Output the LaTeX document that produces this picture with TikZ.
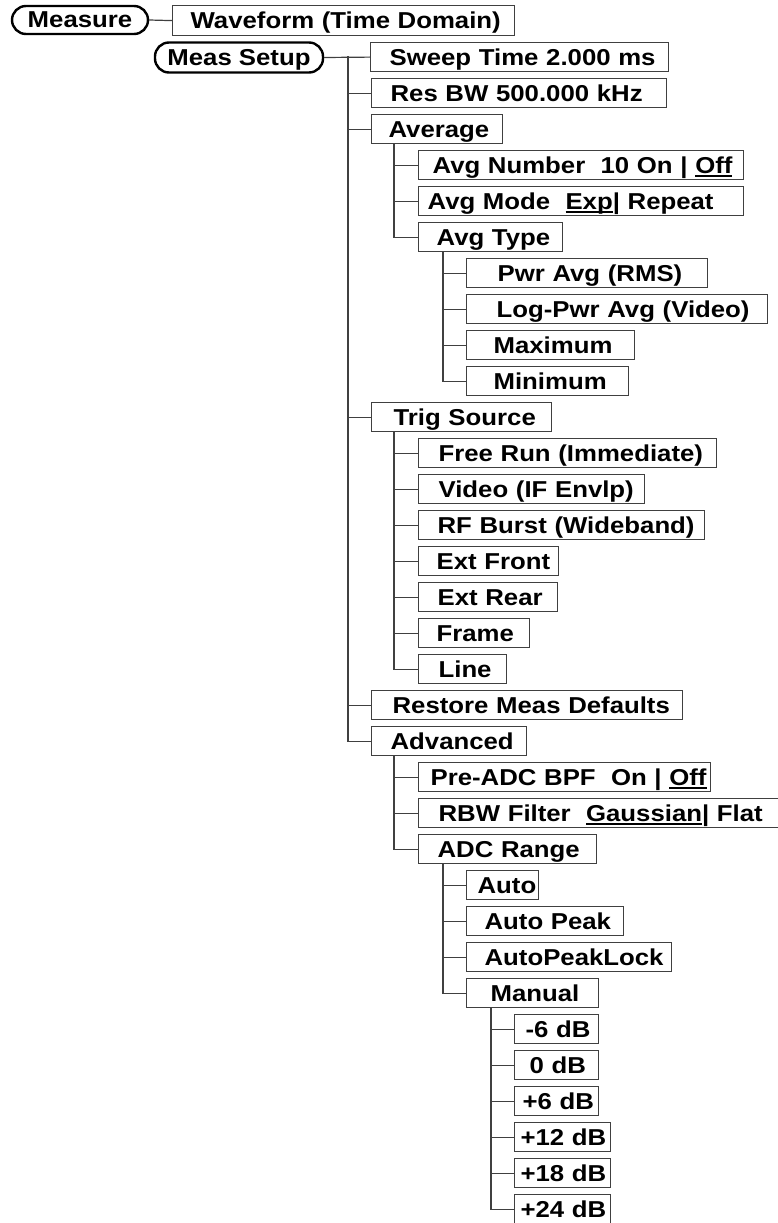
\documentclass[tikz,border=0pt]{standalone}
\usepackage{fontspec}
\setmainfont{Liberation Sans}[FakeStretch=1.12]
\newcommand\ulx[1]{\setbox0\hbox{#1}\rlap{\rule[-3.5pt]{\wd0}{1.6pt}}\box0}
\tikzset{
  lbl/.style={font=\fontsize{23}{27}\selectfont\bfseries, text height=18pt, text depth=2pt},
  bx/.style={lbl, draw=black!75, line width=1.2pt, rectangle, anchor=north west,
    inner xsep=0pt, inner ysep=0pt, minimum height=29pt, align=left},
  rb/.style={lbl, draw=black, line width=2.4pt, rounded corners=14pt, inner sep=0pt},
  ln/.style={draw=black!75, line width=1.2pt}
}
\newcommand\B[6]{\pgfmathsetmacro\bw{#4-#2}\node[bx, text width=\bw pt] (#1) at (#2,{42+36*#3}) {\hspace*{#5pt}#6};}
\begin{document}
\begin{tikzpicture}[x=1pt,y=-1pt]
\useasboundingbox (0,0) rectangle (777,1223);
\node[rb, minimum width=136pt, minimum height=28pt] (meas) at (80,20) {Measure};
\node[bx, text width=342pt, minimum height=30pt] (wave) at (172,5) {\hspace*{18pt}Waveform (Time Domain)};
\node[rb, minimum width=168pt, minimum height=30pt] (ms) at (239,57.5) {Meas Setup};
\B{sweep}{370}{0}{668}{19}{Sweep Time 2.000 ms}
\B{resbw}{371}{1}{666}{19}{Res BW 500.000 kHz}
\B{avg}{371}{2}{502}{17}{Average}
\B{avgnum}{418}{3}{743}{14}{Avg Number\ \ 10 On | \ulx{Off}}
\B{avgmode}{418}{4}{743}{9}{Avg Mode\ \ \ulx{Exp}| Repeat}
\B{avgtype}{418}{5}{562}{18}{Avg Type}
\B{pwr}{466}{6}{707}{31}{Pwr Avg (RMS)}
\B{logpwr}{466}{7}{767}{30}{Log-Pwr Avg (Video)}
\B{max}{466}{8}{634}{27}{Maximum}
\B{min}{466}{9}{628}{27}{Minimum}
\B{trig}{371}{10}{551}{22}{Trig Source}
\B{free}{418}{11}{716}{20}{Free Run (Immediate)}
\B{video}{418}{12}{644}{20}{Video (IF Envlp)}
\B{rfb}{418}{13}{704}{19}{RF Burst (Wideband)}
\B{extf}{418}{14}{558}{18}{Ext Front}
\B{extr}{418}{15}{557}{19}{Ext Rear}
\B{frame}{418}{16}{529}{18}{Frame}
\B{line}{418}{17}{506}{20}{Line}
\B{restore}{371}{18}{682}{21}{Restore Meas Defaults}
\B{adv}{371}{19}{526}{19}{Advanced}
\B{preadc}{418}{20}{710}{12}{Pre-ADC BPF\ \ On | \ulx{Off}}
\B{rbw}{418}{21}{790}{20}{RBW Filter\ \ \ulx{Gaussian}| Flat}
\B{adc}{418}{22}{596}{19}{ADC Range}
\B{auto}{466}{23}{538}{11}{Auto}
\B{autopk}{466}{24}{623}{18}{Auto Peak}
\B{apl}{466}{25}{671}{18}{AutoPeakLock}
\B{manual}{466}{26}{598}{24}{Manual}
\B{m6}{514}{27}{598}{11}{-6 dB}
\B{z0}{514}{28}{598}{15}{0 dB}
\B{p6}{514}{29}{598}{8}{+6 dB}
\B{p12}{514}{30}{610}{6}{+12 dB}
\B{p18}{514}{31}{610}{6}{+18 dB}
\B{p24}{514}{32}{610}{6}{+24 dB}
% connectors
\draw[ln] (meas.east) -- (wave.west);
\coordinate (mst) at (348,56.5);
\draw[ln] (ms.east) -- (sweep.west);
\foreach \c in {resbw,avg,trig,restore,adv} \draw[ln] (mst) |- (\c.west);
\foreach \c in {avgnum,avgmode,avgtype} \draw[ln] ([xshift=23pt]avg.south west) |- (\c.west);
\foreach \c in {pwr,logpwr,max,min} \draw[ln] ([xshift=25pt]avgtype.south west) |- (\c.west);
\foreach \c in {free,video,rfb,extf,extr,frame,line} \draw[ln] ([xshift=23pt]trig.south west) |- (\c.west);
\foreach \c in {preadc,rbw,adc} \draw[ln] ([xshift=23pt]adv.south west) |- (\c.west);
\foreach \c in {auto,autopk,apl,manual} \draw[ln] ([xshift=25pt]adc.south west) |- (\c.west);
\foreach \c in {m6,z0,p6,p12,p18,p24} \draw[ln] ([xshift=25pt]manual.south west) |- (\c.west);
\end{tikzpicture}
\end{document}
